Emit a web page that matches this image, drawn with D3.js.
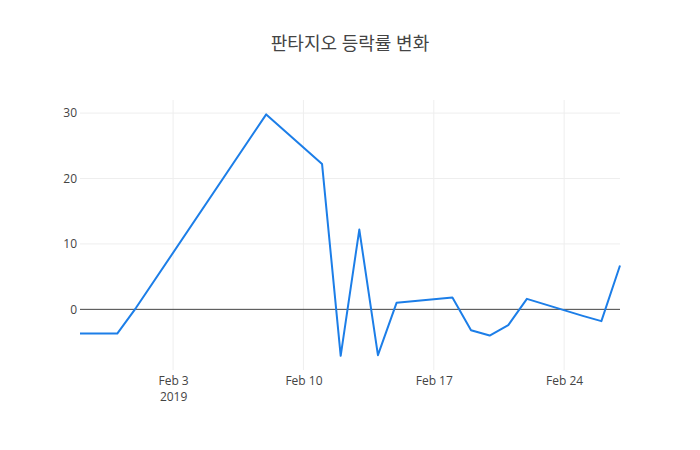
<!DOCTYPE html>
<html>
<head>
<meta charset="utf-8">
<script src="https://cdn.jsdelivr.net/npm/d3@7"></script>
<style>
    body { margin: 0; background: #fff; }
    svg text { font-family: "Open Sans", "Noto Sans CJK KR", sans-serif; }
</style>
</head>
<body>
<div id="chart"></div>
<script>
'use strict';

const chartTitle = "판타지오 등락률 변화";
const dates = ["2019-01-29", "2019-01-31", "2019-02-01", "2019-02-08", "2019-02-11",
    "2019-02-12", "2019-02-13", "2019-02-14", "2019-02-15", "2019-02-18", "2019-02-19",
    "2019-02-20", "2019-02-21", "2019-02-22", "2019-02-25", "2019-02-26", "2019-02-27"];
const changeRates = [-3.7, -3.7, 0.2, 29.8, 22.2, -7.1, 12.2, -7.0, 1.0, 1.8, -3.2,
    -4.0, -2.4, 1.6, -1.0, -1.8, 6.7];
const yTicks = [0, 10, 20, 30];
const xTicks = ["2019-02-03", "2019-02-10", "2019-02-17", "2019-02-24"];

const width = 700, height = 450;
const margin = {top: 100, right: 80, bottom: 80, left: 80};
const parseDate = d3.timeParse("%Y-%m-%d");

const points = dates.map(function (d, i) {
    return {date: parseDate(d), value: changeRates[i]};
});

const svg = d3.select("#chart").append("svg")
    .attr("width", width)
    .attr("height", height);

const x = d3.scaleTime()
    .domain(d3.extent(points, d => d.date))
    .range([margin.left, width - margin.right]);

const y = d3.scaleLinear()
    .domain([-9.27, 32.0])
    .range([height - margin.bottom, margin.top]);

// grid
svg.append("g")
    .selectAll("line")
    .data(xTicks.map(parseDate))
    .join("line")
    .attr("x1", d => x(d)).attr("x2", d => x(d))
    .attr("y1", margin.top).attr("y2", height - margin.bottom)
    .attr("stroke", "#eee").attr("stroke-width", 1);

svg.append("g")
    .selectAll("line")
    .data(yTicks.filter(t => t !== 0))
    .join("line")
    .attr("x1", margin.left).attr("x2", width - margin.right)
    .attr("y1", d => y(d)).attr("y2", d => y(d))
    .attr("stroke", "#eee").attr("stroke-width", 1);

// zero line
svg.append("line")
    .attr("x1", margin.left).attr("x2", width - margin.right)
    .attr("y1", y(0)).attr("y2", y(0))
    .attr("stroke", "#444").attr("stroke-width", 1);

// y axis labels
const yAxis = d3.axisLeft(y).tickValues(yTicks).tickSize(0).tickPadding(3);
svg.append("g")
    .attr("transform", "translate(" + margin.left + ",0)")
    .call(yAxis)
    .attr("font-family", null)
    .call(g => g.select(".domain").remove())
    .selectAll("text")
    .attr("fill", "#444")
    .style("font-size", "12px");

// x axis labels
const xAxis = d3.axisBottom(x)
    .tickValues(xTicks.map(parseDate))
    .tickSize(0)
    .tickPadding(6)
    .tickFormat(d3.timeFormat("%b %-d"));
const xg = svg.append("g")
    .attr("transform", "translate(0," + (height - margin.bottom) + ")")
    .call(xAxis)
    .attr("font-family", null);
xg.select(".domain").remove();
xg.selectAll("text")
    .attr("fill", "#444")
    .style("font-size", "12px");
// year under the first tick
xg.selectAll(".tick")
    .filter((d, i) => i === 0)
    .append("text")
    .attr("fill", "#444")
    .attr("y", 22.5)
    .attr("dy", "0.71em")
    .style("font-size", "12px")
    .text(d => d3.timeFormat("%Y")(d));

// line
const line = d3.line()
    .x(d => x(d.date))
    .y(d => y(d.value));

svg.append("path")
    .datum(points)
    .attr("fill", "none")
    .attr("stroke", "#1c7ee8")
    .attr("stroke-width", 2)
    .attr("stroke-linejoin", "round")
    .attr("d", line);

// title
svg.append("text")
    .attr("x", width / 2)
    .attr("y", 50)
    .attr("text-anchor", "middle")
    .attr("fill", "#444")
    .style("font-size", "18px")
    .text(chartTitle);
</script>
</body>
</html>
